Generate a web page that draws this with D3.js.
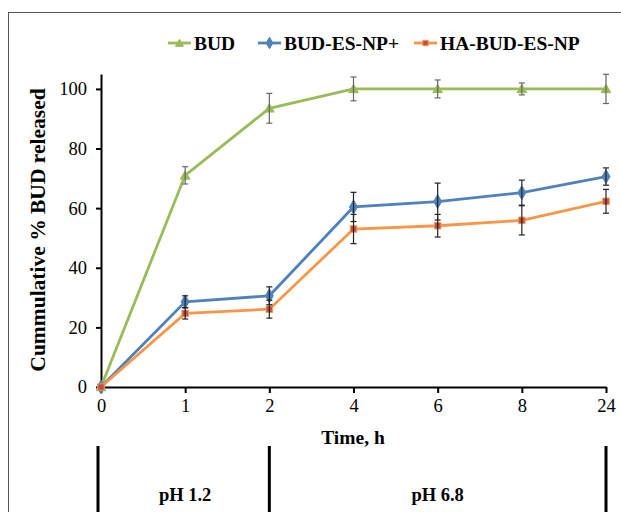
<!DOCTYPE html>
<html>
  <head>
    <meta charset="utf-8">
    <title>Cumulative BUD release</title>
    <script src="https://d3js.org/d3.v7.min.js" charset="utf-8"></script>
    <style>
      body { margin: 0; background: #fff; }
      text { font-family: "Liberation Serif", "Times New Roman", serif; fill: #000; }
    </style>
  </head>
  <body>
    <script>
      // data
      var times = ["0", "1", "2", "4", "6", "8", "24"];
      var seriesNames = ["BUD", "BUD-ES-NP+", "HA-BUD-ES-NP"];
      var budVals = [0, 71.0, 93.5, 100, 100, 100, 100];
      var budErr = [0, 2.9, 5.0, 4.0, 3.0, 2.0, 4.9];
      var npVals = [0, 28.6, 30.6, 60.4, 62.2, 65.2, 70.6];
      var npErr = [0, 2.0, 3.0, 4.9, 6.2, 4.2, 2.9];
      var haVals = [0, 24.7, 26.1, 53.0, 54.1, 55.9, 62.3];
      var haErr = [0, 1.9, 3.0, 4.9, 3.8, 4.9, 4.0];
      var yTicks = [0, 20, 40, 60, 80, 100];
      var phLabels = ["pH 1.2", "pH 6.8"];
      var phBounds = ["0", "2", "24"];

      var width = 621;
      var height = 512;

      var svg = d3.select("body")
          .append("svg")
          .attr("width", width)
          .attr("height", height);

      // outer frame
      svg.append("rect")
        .attr("x", 8.5).attr("y", 12.5)
        .attr("width", 700).attr("height", 600)
        .attr("fill", "none")
        .attr("stroke", "#555")
        .attr("stroke-width", 1);

      var x = d3.scalePoint().domain(times).range([101, 606]);
      var y = d3.scaleLinear().domain([0, 105]).range([387, 74]);

      var series = [
        { name: seriesNames[0], vals: budVals, err: budErr, color: "#9BBB59", fill: "#9BBB59", shape: d3.symbolTriangle, size: 40, errColor: "#666" },
        { name: seriesNames[1], vals: npVals, err: npErr, color: "#4F81BD", fill: "#4F81BD", shape: d3.symbolDiamond, size: 55, errColor: "#222" },
        { name: seriesNames[2], vals: haVals, err: haErr, color: "#F79646", fill: "#C0504D", shape: d3.symbolSquare, size: 42, errColor: "#222" }
      ];

      // axes
      var yAxis = svg.append("g")
        .attr("transform", "translate(101,0)")
        .call(d3.axisLeft(y).tickValues(yTicks).tickSize(5).tickPadding(9).tickSizeOuter(0));
      yAxis.select(".domain").attr("stroke", "#000").attr("stroke-width", 2);
      yAxis.selectAll(".tick line").attr("stroke", "#000").attr("stroke-width", 2);
      yAxis.selectAll(".tick text").attr("font-size", 18.5).attr("font-family", "Liberation Serif");

      var xAxis = svg.append("g")
        .attr("transform", "translate(0,387)")
        .call(d3.axisBottom(x).tickSize(6).tickPadding(6).tickSizeOuter(0));
      xAxis.select(".domain").attr("stroke", "#000").attr("stroke-width", 2);
      xAxis.selectAll(".tick line").attr("stroke", "#000").attr("stroke-width", 2);
      xAxis.selectAll(".tick text").attr("font-size", 18.5).attr("font-family", "Liberation Serif");

      // axis titles
      svg.append("text")
        .attr("transform", "translate(45,230) rotate(-90)")
        .attr("text-anchor", "middle")
        .attr("font-size", 21.5)
        .attr("font-weight", "bold")
        .text("Cummulative % BUD released");

      svg.append("text")
        .attr("x", 353).attr("y", 444)
        .attr("text-anchor", "middle")
        .attr("font-size", 19.5)
        .attr("font-weight", "bold")
        .text("Time, h");

      // pH region markers
      svg.selectAll("line.ph")
        .data(phBounds)
        .enter()
        .append("line")
        .attr("class", "ph")
        .attr("x1", function(d, i) { return x(d) - (i == 0 ? 3 : 0); })
        .attr("x2", function(d, i) { return x(d) - (i == 0 ? 3 : 0); })
        .attr("y1", 446).attr("y2", 520)
        .attr("stroke", "#000")
        .attr("stroke-width", 3);

      svg.selectAll("text.ph")
        .data(phLabels)
        .enter()
        .append("text")
        .attr("class", "ph")
        .attr("x", function(d, i) { return (x(phBounds[i]) + x(phBounds[i + 1])) / 2; })
        .attr("y", 501)
        .attr("text-anchor", "middle")
        .attr("font-size", 18.5)
        .attr("font-weight", "bold")
        .text(function(d) { return d; });

      var line = d3.line()
        .x(function(d, i) { return x(times[i]); })
        .y(function(d) { return y(d); });

      series.forEach(function(s) {
        svg.append("path")
          .datum(s.vals)
          .attr("fill", "none")
          .attr("stroke", s.color)
          .attr("stroke-width", 2.8)
          .attr("d", line);
      });

      series.forEach(function(s) {
        svg.append("g").selectAll("path")
          .data(s.vals)
          .enter()
          .append("path")
          .attr("transform", function(d, i) { return "translate(" + x(times[i]) + "," + y(d) + ")" + (s.shape == d3.symbolTriangle ? " translate(0,1)" : ""); })
          .attr("d", d3.symbol().type(s.shape).size(s.size))
          .attr("fill", s.fill)
          .attr("stroke", s.color)
          .attr("stroke-width", 1);
      });

      // error bars
      series.forEach(function(s) {
        var g = svg.append("g")
          .attr("stroke", s.errColor)
          .attr("stroke-width", 1.2);
        s.vals.forEach(function(v, i) {
          var e = s.err[i];
          if (!e) return;
          var cx = x(times[i]);
          g.append("line").attr("x1", cx).attr("x2", cx).attr("y1", y(v - e)).attr("y2", y(v + e));
          g.append("line").attr("x1", cx - 3).attr("x2", cx + 3).attr("y1", y(v - e)).attr("y2", y(v - e));
          g.append("line").attr("x1", cx - 3).attr("x2", cx + 3).attr("y1", y(v + e)).attr("y2", y(v + e));
        });
      });

      // legend
      var legendX = [168, 258, 414];
      var legend = svg.append("g");
      series.forEach(function(s, i) {
        var lg = legend.append("g").attr("transform", "translate(" + legendX[i] + ",43)");
        lg.append("line").attr("x1", 0).attr("x2", 23).attr("y1", 0).attr("y2", 0)
          .attr("stroke", s.color).attr("stroke-width", 2.8);
        lg.append("path")
          .attr("transform", "translate(11.5," + (s.shape == d3.symbolTriangle ? 1 : 0) + ")")
          .attr("d", d3.symbol().type(s.shape).size(s.size * 0.7))
          .attr("fill", s.fill).attr("stroke", s.color).attr("stroke-width", 1);
        lg.append("text")
          .attr("x", 26).attr("y", 6.5)
          .attr("font-size", 19.5)
          .attr("font-weight", "bold")
          .text(s.name);
      });
    </script>
  </body>
</html>
